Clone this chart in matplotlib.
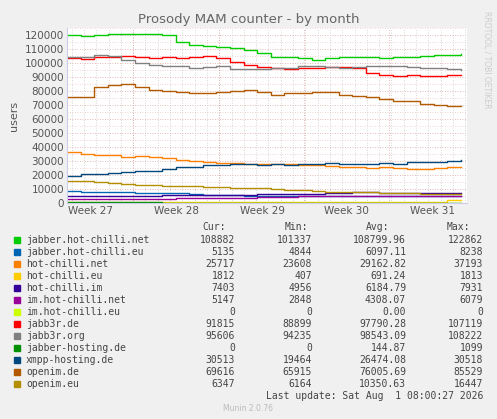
import matplotlib
matplotlib.use('Agg')
import matplotlib.pyplot as plt
import numpy as np

# series values (about 30 samples across the month)
names = ['jabber.hot-chilli.net', 'jabber.hot-chilli.eu', 'hot-chilli.net', 'hot-chilli.eu',
         'hot-chilli.im', 'im.hot-chilli.net', 'im.hot-chilli.eu', 'jabb3r.de', 'jabb3r.org',
         'jabber-hosting.de', 'xmpp-hosting.de', 'openim.de', 'openim.eu']
colors = ['#00CC00', '#0066B3', '#FF8000', '#FFCC00', '#330099', '#990099', '#CCFF00',
          '#FF0000', '#808080', '#008F00', '#00487D', '#B35A00', '#B38F00']

jabber_hc_net = [120000, 119000, 120000, 120500, 121000, 120500, 121000, 120000, 115000, 113000,
                 112000, 111500, 110500, 109000, 107000, 104500, 104000, 103500, 102000, 103500,
                 104000, 104500, 104500, 103500, 104000, 104500, 105000, 105500, 106000, 106500]
jabber_hc_eu = [8500, 8000, 8000, 7800, 7500, 7200, 7000, 7000, 7000, 6500,
                6000, 5800, 5500, 5300, 5200, 5100, 5100, 5100, 5100, 5100,
                5100, 5100, 5100, 5100, 5100, 5100, 5100, 5100, 5135, 5135]
hc_net = [36500, 35000, 34500, 34000, 33000, 33500, 33000, 32000, 30500, 30000,
          29000, 28500, 28500, 28000, 27500, 27500, 27500, 27000, 27000, 26500,
          26000, 25500, 25000, 25500, 25000, 24500, 24500, 25000, 25500, 25700]
hc_eu = [450, 420, 410, 410, 410, 420, 430, 440, 450, 450,
         460, 470, 480, 480, 500, 520, 540, 560, 580, 600,
         620, 640, 660, 680, 700, 720, 750, 800, 1800, 1812]
hc_im = [5000, 5000, 5000, 5000, 5100, 5200, 5300, 5400, 5500, 5600,
         5800, 6000, 6000, 6000, 6100, 6200, 6300, 6500, 6700, 7400,
         7400, 7500, 7500, 7400, 7400, 7400, 7400, 7400, 7400, 7403]
im_hc_net = [3000, 2900, 2850, 2900, 3000, 3000, 3100, 3200, 3300, 3400,
             3500, 3600, 3700, 3900, 4100, 4300, 4600, 4900, 5100, 5100,
             5100, 5100, 5100, 5100, 5100, 5100, 5100, 5150, 5150, 5147]
im_hc_eu = [0] * 30
jabb3r_de = [103500, 103000, 104000, 104500, 105000, 104000, 103500, 104000, 103500, 104500,
             105000, 103500, 101000, 98500, 97000, 96500, 96000, 96500, 96500, 97000,
             97000, 96500, 93000, 91500, 91000, 91500, 91000, 91000, 91500, 91500]
jabb3r_org = [104000, 104500, 106000, 105000, 102000, 100000, 98500, 98000, 97500, 96500,
              97000, 97500, 96000, 95500, 95500, 96500, 96500, 97500, 97500, 97000,
              96500, 97000, 97500, 97500, 98000, 97000, 96500, 96500, 96000, 95000]
jabber_hosting = [1000, 1000, 1050, 1000, 1000, 1050, 1000, 0, 0, 0,
                  0, 0, 0, 0, 0, 0, 0, 0, 0, 0,
                  0, 0, 0, 0, 0, 0, 0, 0, 0, 0]
xmpp_hosting = [19500, 21000, 21000, 21500, 22000, 22500, 23000, 24500, 25500, 26000,
                27000, 27000, 28000, 28000, 27000, 27500, 27000, 27500, 27500, 28500,
                28000, 28000, 28000, 28500, 28000, 29000, 29500, 29500, 30000, 30500]
openim_de = [76000, 75500, 82500, 84000, 85000, 83000, 80500, 80000, 79000, 78500,
             78500, 79500, 80000, 80500, 79000, 77000, 78500, 78500, 79000, 79000,
             77000, 76500, 76000, 74500, 73000, 72500, 70500, 70000, 69500, 69600]
openim_eu = [16000, 15500, 15000, 14500, 13500, 13000, 12500, 12000, 12000, 12000,
             11500, 11500, 11000, 11000, 10500, 10000, 9500, 9000, 8500, 8000,
             7800, 7600, 7500, 7200, 7000, 6800, 6600, 6500, 6400, 6347]

series = [jabber_hc_net, jabber_hc_eu, hc_net, hc_eu, hc_im, im_hc_net, im_hc_eu,
          jabb3r_de, jabb3r_org, jabber_hosting, xmpp_hosting, openim_de, openim_eu]

cur = ['108882', '5135', '25717', '1812', '7403', '5147', '0', '91815', '95606', '0', '30513', '69616', '6347']
mins = ['101337', '4844', '23608', '407', '4956', '2848', '0', '88899', '94235', '0', '19464', '65915', '6164']
avgs = ['108799.96', '6097.11', '29162.82', '691.24', '6184.79', '4308.07', '0.00', '97790.28',
        '98543.09', '144.87', '26474.08', '76005.69', '10350.63']
maxs = ['122862', '8238', '37193', '1813', '7931', '6079', '0', '107119', '108222', '1099', '30518', '85529', '16447']

week_labels = ['Week 27', 'Week 28', 'Week 29', 'Week 30', 'Week 31']
week_pos = [23, 109, 195, 279, 365]   # in axis pixel units (0..400)

W, H = 497, 419
fig = plt.figure(figsize=(W / 100, H / 100), dpi=100)
fig.patch.set_facecolor('#F0F0F0')
ax = fig.add_axes([67 / W, (H - 203) / H, 400 / W, 175 / H])
ax.set_facecolor('white')

x = np.linspace(0, 394, 30)
for s, c in zip(series, colors):
    ax.step(x, s, where='post', color=c, lw=1)

ax.set_xlim(0, 400)
ax.set_ylim(0, 125000)
# grid: dotted gray minor lines, red dotted major lines
for yv in range(5000, 125001, 5000):
    ax.axhline(yv, color='#E0A0A0' if yv % 10000 == 0 else '#E8C8C8', ls=(0, (1, 2)), lw=0.6, zorder=0)
for xv in np.arange(-20, 400, 12.3):
    ax.axvline(xv, color='#C8C8C8', ls=(0, (1, 2)), lw=0.6, zorder=0)
for xv in [66, 152, 237, 322]:
    ax.axvline(xv, color='#E0A0A0', ls=(0, (1, 2)), lw=0.6, zorder=0)

ax.set_yticks(range(0, 120001, 10000))
ax.set_yticklabels([str(v) for v in range(0, 120001, 10000)], fontsize=7.5, color='#555555')
ax.set_xticks(week_pos)
ax.set_xticklabels(week_labels, fontsize=7.5, color='#555555')
ax.tick_params(length=0, pad=2)
for sp in ['top', 'right']:
    ax.spines[sp].set_visible(False)
ax.spines['left'].set_color('#CCCCEE')
ax.spines['bottom'].set_color('#CCCCEE')
ax.set_ylabel('users', fontsize=8, color='#555555')

fig.text(W / 2 / W, 1 - 19 / H, 'Prosody MAM counter - by month', ha='center', va='center',
         fontsize=9.5, color='#666666')
fig.text(487 / W, 1 - 60 / H, 'RRDTOOL / TOBI OETIKER', rotation=270, ha='center', va='center',
         fontsize=5.5, color='#CCCCCC')

mono = 'DejaVu Sans Mono'
fs = 7
def fy(py):
    return 1 - py / H

for lbl, xr in zip(['Cur:', 'Min:', 'Avg:', 'Max:'], [226, 308, 389, 470]):
    fig.text(xr / W, fy(227), lbl, ha='right', va='center', family=mono, fontsize=fs, color='#444444')
for i, name in enumerate(names):
    yy = fy(240 + i * 12)
    fig.patches.append(plt.Rectangle((14 / W, yy - 3 / H), 6 / W, 6 / H, transform=fig.transFigure,
                                     color=colors[i]))
    fig.text(26 / W, yy, name, ha='left', va='center', family=mono, fontsize=fs, color='#444444')
    fig.text(235 / W, yy, cur[i], ha='right', va='center', family=mono, fontsize=fs, color='#444444')
    fig.text(312 / W, yy, mins[i], ha='right', va='center', family=mono, fontsize=fs, color='#444444')
    fig.text(406 / W, yy, avgs[i], ha='right', va='center', family=mono, fontsize=fs, color='#444444')
    fig.text(483 / W, yy, maxs[i], ha='right', va='center', family=mono, fontsize=fs, color='#444444')

fig.text(483 / W, fy(396), 'Last update: Sat Aug  1 08:00:27 2026', ha='right', va='center',
         family=mono, fontsize=fs, color='#444444')
fig.text(248 / W, fy(408), 'Munin 2.0.76', ha='center', va='center', fontsize=5.5, color='#BBBBBB')

fig.savefig('out.png', dpi=100, facecolor=fig.get_facecolor())
